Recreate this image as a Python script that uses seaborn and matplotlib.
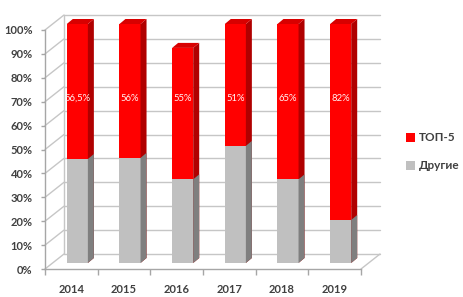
import matplotlib
matplotlib.use("Agg")
import matplotlib.pyplot as plt
from matplotlib.patches import Polygon, Patch
import seaborn as sns
import numpy as np

years = ["2014", "2015", "2016", "2017", "2018", "2019"]
others = [43.5, 44, 35, 49, 35, 18]          # Другие
top5 = [56.5, 56, 55, 51, 65, 82]            # ТОП-5
top5_labels = ["56,5%", "56%", "55%", "51%", "65%", "82%"]
yticks = [0, 10, 20, 30, 40, 50, 60, 70, 80, 90, 100]
ytick_labels = [f"{v}%" for v in yticks]

RED, RED_SIDE, RED_TOP = "#ff0000", "#b00000", "#d80000"
GRAY, GRAY_SIDE = "#c0c0c0", "#7f7f7f"
GRID = "#c6c6c6"
TXT = "#404040"

sns.set_theme(style="white")
plt.rcParams["font.family"] = ["Lato", "DejaVu Sans"]

W, H = 463, 297
fig = plt.figure(figsize=(W / 100, H / 100), dpi=100)
ax_l, ax_r, ax_b, ax_t = 45, 361, 269, 30
ax = fig.add_axes([ax_l / W, (H - ax_b) / H, (ax_r - ax_l) / W, (ax_b - ax_t) / H])
ax.set_xlim(-0.5, len(years) - 0.5)
ax.set_ylim(0, 100)

# px -> data units
px_x = (len(years)) / (ax_r - ax_l)
px_y = 100 / (ax_b - ax_t)

# back wall (depth offset)
bdx, bdy = 19 * px_x, 15 * px_y
x0, x1 = -0.5, len(years) - 0.5
for v in yticks:
    ax.plot([x0 + bdx, x1 + bdx], [v + bdy, v + bdy], color=GRID, lw=1.0, clip_on=False, zorder=0.5)
    ax.plot([x0, x0 + bdx], [v, v + bdy], color=GRID, lw=1.0, clip_on=False, zorder=0.5)
ax.plot([x0 + bdx, x0 + bdx], [bdy, 100 + bdy], color=GRID, lw=1.0, clip_on=False, zorder=0.5)
ax.plot([x1, x1 + bdx], [0, bdy], color=GRID, lw=1.0, clip_on=False, zorder=0.5)

totals = [a + b for a, b in zip(others, top5)]
sns.barplot(x=years, y=totals, color=RED, width=0.4, saturation=1, ax=ax, label="ТОП-5", zorder=2)
sns.barplot(x=years, y=others, color=GRAY, width=0.4, saturation=1, ax=ax, label="Другие", zorder=3)

mdx, mdy = 6 * px_x, 6 * px_y      # bars sit in the middle plane
sdx, sdy = 6 * px_x, 5 * px_y      # bar depth
n = len(years)
for i, p in enumerate(ax.patches):
    p.set_x(p.get_x() + mdx)
    p.set_y(p.get_y() + mdy)
    p.set_clip_on(False)
    p.set_edgecolor("none")
    is_red = i < n
    xl, yb, w, h = p.get_x(), p.get_y(), p.get_width(), p.get_height()
    xr, yt = xl + w, yb + h
    side = Polygon([(xr, yb), (xr + sdx, yb + sdy), (xr + sdx, yt + sdy), (xr, yt)],
                   closed=True, facecolor=RED_SIDE if is_red else GRAY_SIDE,
                   edgecolor="none", clip_on=False, zorder=p.get_zorder())
    ax.add_patch(side)
    if is_red:
        top = Polygon([(xl, yt), (xl + sdx, yt + sdy), (xr + sdx, yt + sdy), (xr, yt)],
                      closed=True, facecolor=RED_TOP, edgecolor="none", clip_on=False, zorder=2)
        ax.add_patch(top)
        ax.text(xl + w / 2, 69 + mdy, top5_labels[i], color="#fff4f4", fontsize=6.8,
                ha="center", va="center", zorder=5)

sns.despine(ax=ax, top=True, right=True)
for s in ("left", "bottom"):
    ax.spines[s].set_color("#a6a6a6")
    ax.spines[s].set_linewidth(1.0)

ax.set_yticks(yticks)
ax.set_yticklabels(ytick_labels)
ax.set_xticks(range(n))
ax.set_xticklabels(years)
ax.set_xticks([i - 0.5 for i in range(n + 1)], minor=True)
ax.tick_params(axis="x", which="major", length=0, pad=11, labelsize=8, labelcolor=TXT)
ax.tick_params(axis="x", which="minor", length=4, width=1, color="#a6a6a6", direction="out", bottom=True)
ax.tick_params(axis="y", length=3, width=1, color="#a6a6a6", direction="out", left=True, pad=6,
               labelsize=8, labelcolor=TXT)
for t in ax.get_xticklabels() + ax.get_yticklabels():
    t.set_fontweight("bold")
ax.set_xlabel("")
ax.set_ylabel("")

leg = ax.legend(loc="center left", bbox_to_anchor=(1.11, 0.49), frameon=False,
                handlelength=0.75, handleheight=0.75, handletextpad=0.35, labelspacing=1.45,
                fontsize=8.5)
for t in leg.get_texts():
    t.set_color(TXT)
    t.set_fontweight("bold")

fig.savefig("out.png", dpi=100)
